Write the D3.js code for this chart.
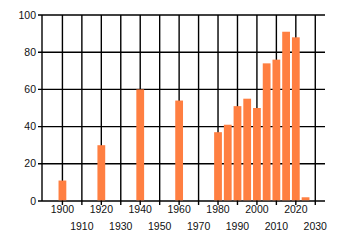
<!DOCTYPE html>
<html>
<head>
<meta charset="utf-8">
<script src="https://cdn.jsdelivr.net/npm/d3@7"></script>
<style>
  body { margin: 0; background: #fff; }
  text { font-family: "Liberation Sans", Arial, sans-serif; font-size: 10.5px; fill: #111; }
</style>
</head>
<body>
<svg id="chart" width="340" height="245"></svg>
<script>
// data
const years = [1900, 1920, 1940, 1960, 1980, 1985, 1990, 1995, 2000, 2005, 2010, 2015, 2020, 2025];
const values = [11, 30, 60, 54, 37, 41, 51, 55, 50, 74, 76, 91, 88, 2];
const yTicks = [0, 20, 40, 60, 80, 100];
const xTicks = [1900, 1910, 1920, 1930, 1940, 1950, 1960, 1970, 1980, 1990, 2000, 2010, 2020, 2030];

const width = 340, height = 245;
const margin = { top: 15, right: 15, bottom: 44, left: 42 };

const svg = d3.select("#chart");

const x = d3.scaleLinear()
    .domain([1889.5, 2035])
    .range([margin.left, width - margin.right]);
const y = d3.scaleLinear()
    .domain([0, 100])
    .range([height - margin.bottom, margin.top]);

// grid + axis lines
const grid = svg.append("g").attr("stroke", "#000").attr("stroke-width", 1.4);
grid.selectAll("line.h")
    .data(yTicks)
    .join("line")
    .attr("class", "h")
    .attr("x1", margin.left - 4)
    .attr("x2", width - margin.right)
    .attr("y1", (d) => y(d))
    .attr("y2", (d) => y(d));
grid.selectAll("line.v")
    .data(xTicks)
    .join("line")
    .attr("class", "v")
    .attr("x1", (d) => x(d))
    .attr("x2", (d) => x(d))
    .attr("y1", margin.top)
    .attr("y2", y(0) + 4);
grid.append("line")
    .attr("x1", margin.left).attr("x2", margin.left)
    .attr("y1", margin.top).attr("y2", y(0));

// bars sit on top of the grid, 4 years wide, centred on the year
svg.append("g")
    .selectAll("rect")
    .data(years)
    .join("rect")
    .attr("x", (d) => x(d - 2))
    .attr("width", x(4) - x(0))
    .attr("y", (d, i) => y(values[i]))
    .attr("height", (d, i) => y(0) - y(values[i]) - 0.7)
    .attr("fill", "#ff7f41");

// y labels
svg.append("g")
    .selectAll("text")
    .data(yTicks)
    .join("text")
    .attr("x", margin.left - 6)
    .attr("y", (d) => y(d))
    .attr("dy", "0.35em")
    .attr("text-anchor", "end")
    .text((d) => d);

// x labels, staggered on two rows
svg.append("g")
    .selectAll("text")
    .data(xTicks)
    .join("text")
    .attr("x", (d) => x(d))
    .attr("y", (d, i) => (i % 2 === 0 ? 213 : 230))
    .attr("text-anchor", "middle")
    .text((d) => d);
</script>
</body>
</html>
